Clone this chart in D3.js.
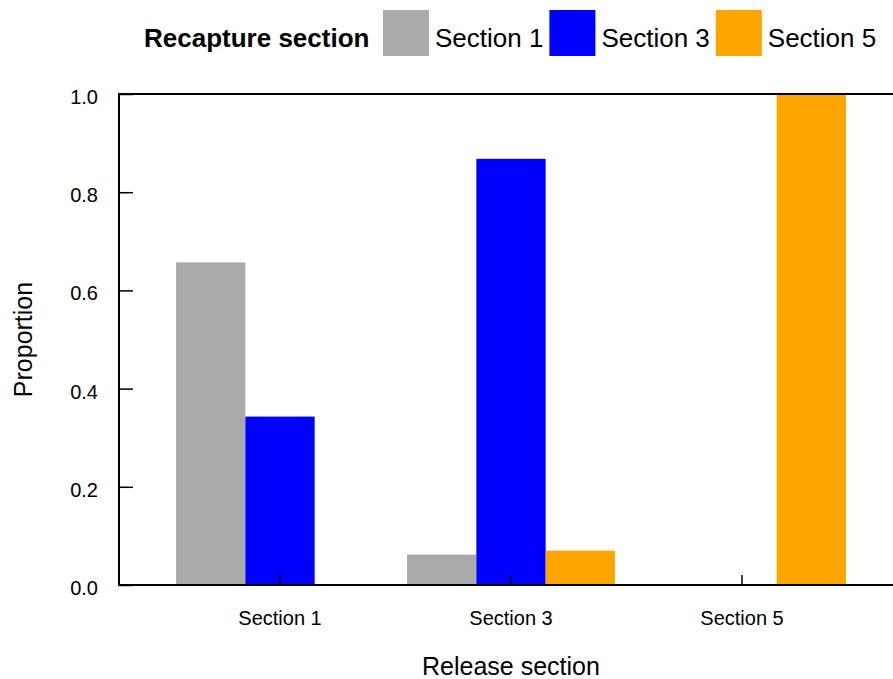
<!DOCTYPE html>
<html>
<head>
<meta charset="utf-8">
<script src="https://cdn.jsdelivr.net/npm/d3@7"></script>
<style>
  html, body { margin: 0; padding: 0; background: #fff; }
  svg { display: block; }
  text { font-family: "Liberation Sans", Arial, sans-serif; fill: #000; }
</style>
</head>
<body>
<svg id="chart" width="893" height="679"></svg>
<script>
// Release sections along the x axis
const releaseSections = ["Section 1", "Section 3", "Section 5"];
// Recapture sections (one bar per release section each)
const recaptureSections = ["Section 1", "Section 3", "Section 5"];
const recaptureColors = ["#aaaaaa", "#0000ff", "#ffa500"];
// Proportion recaptured, per recapture section, in release-section order
const recapSection1 = [0.657, 0.062, 0.0];
const recapSection3 = [0.343, 0.868, 0.0];
const recapSection5 = [0.0, 0.070, 1.0];
const yTicks = [0.0, 0.2, 0.4, 0.6, 0.8, 1.0];

const seriesValues = [recapSection1, recapSection3, recapSection5];
const rows = [];
releaseSections.forEach((rel, i) => {
  recaptureSections.forEach((rec, j) => {
    rows.push({ release: rel, recapture: rec, value: seriesValues[j][i] });
  });
});

const svg = d3.select("#chart");
const plot = { left: 119, top: 94, bottom: 585, right: 903 };

const y = d3.scaleLinear().domain([0, 1]).range([plot.bottom, plot.top]);
const x = d3.scaleBand()
  .domain(releaseSections)
  .range([164.5, 857.5])
  .paddingInner(0.1)
  .paddingOuter(0.05);
const xInner = d3.scaleBand()
  .domain(recaptureSections)
  .range([0, x.bandwidth()])
  .padding(0);
const color = d3.scaleOrdinal().domain(recaptureSections).range(recaptureColors);

// Bars
svg.append("g")
  .selectAll("rect")
  .data(rows)
  .join("rect")
  .attr("x", d => x(d.release) + xInner(d.recapture))
  .attr("width", xInner.bandwidth())
  .attr("y", d => y(d.value))
  .attr("height", d => y(0) - y(d.value))
  .attr("fill", d => color(d.recapture));

// Y axis (ticks pointing inward)
const yAxis = svg.append("g")
  .attr("transform", `translate(${plot.left},0)`)
  .call(d3.axisLeft(y)
    .tickValues(yTicks)
    .tickFormat(d3.format(".1f"))
    .tickSize(-14)
    .tickSizeOuter(0)
    .tickPadding(21));
yAxis.select(".domain").remove();
yAxis.selectAll(".tick line").attr("stroke", "#000").attr("stroke-width", 1.5);
yAxis.selectAll(".tick text")
  .attr("dy", "0.47em")
  .style("font-size", "20px")
  .style("font-family", "'Liberation Sans', Arial, sans-serif");

// X axis (ticks pointing inward)
const xAxis = svg.append("g")
  .attr("transform", `translate(0,${plot.bottom})`)
  .call(d3.axisBottom(x)
    .tickSize(-10)
    .tickSizeOuter(0)
    .tickPadding(26));
xAxis.select(".domain").remove();
xAxis.selectAll(".tick line").attr("stroke", "#000").attr("stroke-width", 1.5);
xAxis.selectAll(".tick text")
  .attr("dy", "0.71em")
  .style("font-size", "20px")
  .style("font-family", "'Liberation Sans', Arial, sans-serif");

// Plot frame: left, bottom and top edges
const frame = svg.append("g").attr("stroke", "#000").attr("stroke-width", 2);
frame.append("line").attr("x1", plot.left).attr("x2", plot.left).attr("y1", plot.top - 1).attr("y2", plot.bottom + 1);
frame.append("line").attr("x1", plot.left - 1).attr("x2", plot.right).attr("y1", plot.bottom).attr("y2", plot.bottom);
frame.append("line").attr("x1", plot.left - 1).attr("x2", plot.right).attr("y1", plot.top).attr("y2", plot.top);

// Axis titles
svg.append("text")
  .attr("x", x("Section 3") + x.bandwidth() / 2)
  .attr("y", 675)
  .attr("text-anchor", "middle")
  .style("font-size", "25px")
  .text("Release section");

svg.append("text")
  .attr("transform", `translate(32,${(plot.top + plot.bottom) / 2}) rotate(-90)`)
  .attr("text-anchor", "middle")
  .style("font-size", "25px")
  .text("Proportion");

// Legend
const legend = svg.append("g");
const legendTitle = legend.append("text")
  .attr("x", 144)
  .attr("y", 47)
  .style("font-size", "26px")
  .style("font-weight", "bold")
  .text("Recapture section");
let lx = 383;
recaptureSections.forEach(name => {
  legend.append("rect")
    .attr("x", lx).attr("y", 10)
    .attr("width", 46).attr("height", 46)
    .attr("fill", color(name));
  const t = legend.append("text")
    .attr("x", lx + 52)
    .attr("y", 47)
    .style("font-size", "26px")
    .text(name);
  lx += 52 + t.node().getComputedTextLength() + 6;
});
</script>
</body>
</html>
